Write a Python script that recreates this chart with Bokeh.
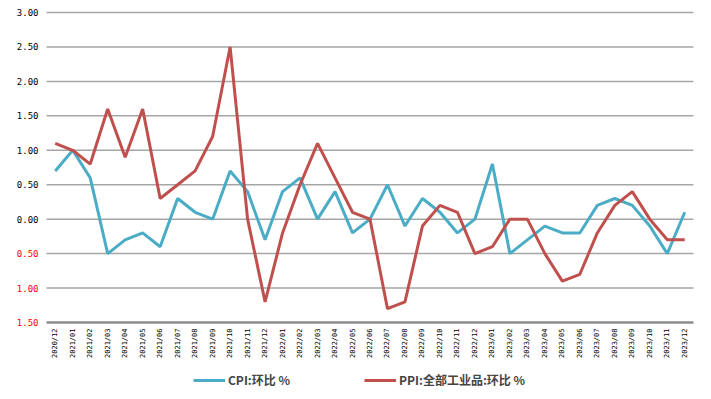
import math
from bokeh.plotting import figure
from bokeh.models import Legend, LegendItem, Range1d
from bokeh.core.properties import value
from bokeh.embed import file_html
from bokeh.resources import INLINE

months = ["2020/12",
          "2021/01", "2021/02", "2021/03", "2021/04", "2021/05", "2021/06",
          "2021/07", "2021/08", "2021/09", "2021/10", "2021/11", "2021/12",
          "2022/01", "2022/02", "2022/03", "2022/04", "2022/05", "2022/06",
          "2022/07", "2022/08", "2022/09", "2022/10", "2022/11", "2022/12",
          "2023/01", "2023/02", "2023/03", "2023/04", "2023/05", "2023/06",
          "2023/07", "2023/08", "2023/09", "2023/10", "2023/11", "2023/12"]

cpi = [0.7, 1.0, 0.6, -0.5, -0.3, -0.2, -0.4, 0.3, 0.1, 0.0, 0.7, 0.4, -0.3,
       0.4, 0.6, 0.0, 0.4, -0.2, 0.0, 0.5, -0.1, 0.3, 0.1, -0.2, 0.0,
       0.8, -0.5, -0.3, -0.1, -0.2, -0.2, 0.2, 0.3, 0.2, -0.1, -0.5, 0.1]

ppi = [1.1, 1.0, 0.8, 1.6, 0.9, 1.6, 0.3, 0.5, 0.7, 1.2, 2.5, 0.0, -1.2,
       -0.2, 0.5, 1.1, 0.6, 0.1, 0.0, -1.3, -1.2, -0.1, 0.2, 0.1, -0.5,
       -0.4, 0.0, 0.0, -0.5, -0.9, -0.8, -0.2, 0.2, 0.4, 0.0, -0.3, -0.3]

y_ticks = [-1.5, -1.0, -0.5, 0.0, 0.5, 1.0, 1.5, 2.0, 2.5, 3.0]
y_tick_labels = ["1.50", "1.00", "0.50", "0.00", "0.50", "1.00", "1.50", "2.00", "2.50", "3.00"]
y_tick_colors = ["red", "red", "red", "black", "black", "black", "black", "black", "black", "black"]

cpi_label = "CPI:环比 %"
ppi_label = "PPI:全部工业品:环比 %"

# ---- layout (pixels) ----
W, H = 711, 399
LEFT, FRAME_W = 46, 647
TOP, FRAME_H = 12, 310
Y_MIN, Y_MAX = y_ticks[0], y_ticks[-1]

n = len(months)
px_x = FRAME_W / n
px_y = FRAME_H / (Y_MAX - Y_MIN)
x_range = Range1d(-LEFT / px_x, (W - LEFT) / px_x)
y_range = Range1d(Y_MIN - (H - TOP - FRAME_H) / px_y, Y_MAX + TOP / px_y)

p = figure(width=W, height=H, x_range=x_range, y_range=y_range,
           x_axis_type=None, y_axis_type=None, output_backend="svg",
           toolbar_location=None, min_border=0)
p.outline_line_color = None
p.grid.visible = False

xs = [i + 0.5 for i in range(n)]

# horizontal grid lines
grid_ticks = y_ticks[1:]
p.segment(x0=[0] * len(grid_ticks), x1=[n] * len(grid_ticks), y0=grid_ticks, y1=grid_ticks,
          line_color="#a6a6a6", line_width=1.5)
# bottom axis line
p.segment(x0=[0], x1=[n], y0=[Y_MIN], y1=[Y_MIN], line_color="#8c8c8c", line_width=2.5)

cpi_r = p.line(xs, cpi, line_color="#4bacc6", line_width=3)
ppi_r = p.line(xs, ppi, line_color="#c0504d", line_width=3)

# y tick labels
p.text(x=[0] * len(y_ticks), y=y_ticks, text=y_tick_labels, text_color=y_tick_colors,
       x_offset=-8, text_align="right", text_baseline="middle",
       text_font=value("DejaVu Sans Mono"), text_font_size="9px")

# x tick labels (vertical)
p.text(x=xs, y=[Y_MIN] * n, text=months, angle=math.pi / 2,
       y_offset=6, text_align="right", text_baseline="middle",
       text_color="black", text_font=value("DejaVu Sans Mono"), text_font_size="7px")

legend = Legend(items=[LegendItem(label=cpi_label, renderers=[cpi_r]),
                       LegendItem(label=ppi_label, renderers=[ppi_r])],
                orientation="horizontal", location=(193, 11),
                label_text_font="Noto Sans CJK SC", label_text_font_style="bold",
                label_text_font_size="12px", glyph_width=32, glyph_height=12,
                spacing=74, label_standoff=3, padding=2, margin=0,
                border_line_color=None, background_fill_alpha=0)
p.add_layout(legend, "center")

open("out.html", "w").write(file_html(p, INLINE))
